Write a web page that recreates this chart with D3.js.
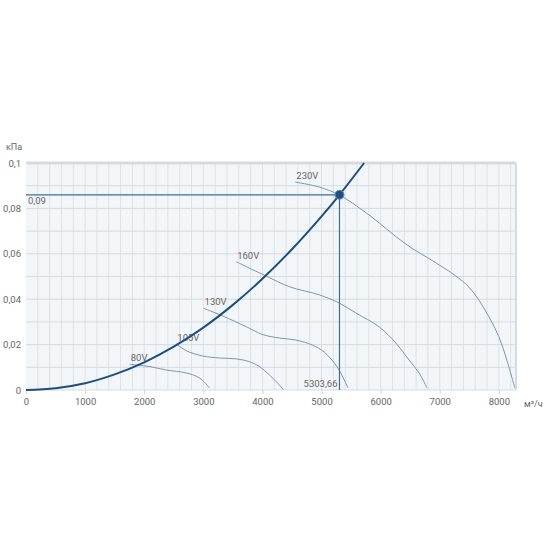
<!DOCTYPE html>
<html>
<head>
<meta charset="utf-8">
<script src="https://cdn.jsdelivr.net/npm/d3@7"></script>
<style>
  body { margin: 0; background: #fff; }
  text { font-family: Roboto, "Noto Sans", sans-serif; fill: #666; }
</style>
</head>
<body>
<svg id="chart"></svg>
<script>
// Axis ticks
const xTicks = [0, 1000, 2000, 3000, 4000, 5000, 6000, 7000, 8000];
const yTicks = [0, 0.02, 0.04, 0.06, 0.08, 0.1];

// System (network) curve
const systemCurve = [
  [0, 0], [500, 0.0008], [1000, 0.003], [1500, 0.0069], [2000, 0.0122],
  [2500, 0.0191], [3000, 0.0275], [3500, 0.0375], [4000, 0.049],
  [4500, 0.062], [5000, 0.0765], [5303.66, 0.086], [5720, 0.1]
];

// Fan curves by voltage
const fanNames = ['230V', '160V', '130V', '105V', '80V'];
const fan230 = [
  [4557, 0.0916], [4962, 0.0894], [5300, 0.0859], [5688, 0.0793], [5975, 0.0736],
  [6257, 0.0676], [6532, 0.0624], [6819, 0.0579], [7038, 0.0543], [7269, 0.0503],
  [7494, 0.0453], [7662, 0.0396], [7831, 0.0323], [8000, 0.0235], [8135, 0.0132],
  [8270, 0.0009]
];
const fan160 = [
  [3556, 0.0565], [4062, 0.0502], [4456, 0.0455], [4962, 0.0419], [5300, 0.0383],
  [5582, 0.0339], [5975, 0.0278], [6257, 0.0207], [6481, 0.0132], [6650, 0.0075],
  [6785, 0.0009]
];
const fan130 = [
  [3004, 0.036], [3330, 0.0326], [3725, 0.0279], [4005, 0.0244], [4287, 0.0229],
  [4569, 0.022], [4844, 0.0198], [5046, 0.0167], [5266, 0.0101], [5384, 0.0044],
  [5451, 0.0009]
];
const fan105 = [
  [2543, 0.0203], [2712, 0.0173], [2987, 0.015], [3274, 0.0141], [3556, 0.0137],
  [3781, 0.0125], [3949, 0.0103], [4118, 0.0066], [4287, 0.0022], [4354, 0]
];
const fan80 = [
  [1755, 0.0113], [2093, 0.0103], [2375, 0.0088], [2712, 0.0075], [2937, 0.0053],
  [3105, 0.0009]
];
const fans = [fan230, fan160, fan130, fan105, fan80];

// Operating point
const opFlow = 5303.66;
const opPressure = 0.086;
const opFlowLabel = '5303,66';
const opPressureLabel = '0,09';

const width = 550, height = 550;
const margin = {top: 163, right: 34, bottom: 160, left: 26};
const innerW = width - margin.left - margin.right;
const innerH = height - margin.top - margin.bottom;

const svg = d3.select('#chart')
    .attr('width', width)
    .attr('height', height);

const chart = svg.append('g')
    .attr('transform', `translate(${margin.left},${margin.top})`);

const xScale = d3.scaleLinear().domain([0, 8290]).range([0, innerW]);
const yScale = d3.scaleLinear().domain([0, 0.1]).range([innerH, 0]);

const fmt = d => d3.format('~g')(d).replace('.', ',');

// Background
chart.append('rect')
    .attr('width', innerW)
    .attr('height', innerH)
    .attr('fill', '#f3f6f9');

// Grid lines
chart.append('g')
    .selectAll('line')
    .data(d3.range(200, 8290, 200))
  .join('line')
    .attr('x1', d => xScale(d)).attr('x2', d => xScale(d))
    .attr('y1', 0).attr('y2', innerH)
    .attr('stroke', '#dde2e7')
    .attr('stroke-width', 1);

chart.append('g')
    .selectAll('line')
    .data(d3.range(1, 10).map(i => i / 100))
  .join('line')
    .attr('x1', 0).attr('x2', innerW)
    .attr('y1', d => yScale(d)).attr('y2', d => yScale(d))
    .attr('stroke', '#d6dbe0')
    .attr('stroke-width', 1);

// Frame: top and right thicker borders
chart.append('line')
    .attr('x1', 0).attr('x2', innerW).attr('y1', 0).attr('y2', 0)
    .attr('stroke', '#d7dbdf').attr('stroke-width', 3);
chart.append('line')
    .attr('x1', innerW).attr('x2', innerW).attr('y1', 0).attr('y2', innerH)
    .attr('stroke', '#d7dbdf').attr('stroke-width', 2);
chart.append('line')
    .attr('x1', 0).attr('x2', innerW).attr('y1', innerH).attr('y2', innerH)
    .attr('stroke', '#d7dbdf').attr('stroke-width', 1);

// Axes
const xAxis = d3.axisBottom(xScale)
    .tickValues(xTicks)
    .tickSize(4)
    .tickPadding(4)
    .tickFormat(d => d);

const yAxis = d3.axisLeft(yScale)
    .tickValues(yTicks)
    .tickSize(0)
    .tickPadding(5)
    .tickFormat(fmt);

chart.append('g')
    .attr('transform', `translate(0,${innerH})`)
    .call(xAxis)
    .call(g => g.select('.domain').remove())
    .call(g => g.selectAll('.tick line').attr('stroke', '#cfd4d9'))
    .call(g => g.selectAll('text').attr('fill', '#666').style('font-size', '9.5px')
        .style('font-family', 'Roboto, sans-serif'));

chart.append('g')
    .call(yAxis)
    .call(g => g.select('.domain').remove())
    .call(g => g.selectAll('text').attr('fill', '#666').style('font-size', '9.5px')
        .style('font-family', 'Roboto, sans-serif'));

// Axis titles
svg.append('text')
    .attr('x', 6).attr('y', 150)
    .style('font-size', '9px')
    .text('кПа');

svg.append('text')
    .attr('x', 524).attr('y', 407)
    .style('font-size', '9px')
    .text('м³/ч');

const line = d3.line()
    .x(d => xScale(d[0]))
    .y(d => yScale(d[1]))
    .curve(d3.curveCatmullRom.alpha(0.5));

// Fan curves
fans.forEach((pts, i) => {
  chart.append('path')
      .datum(pts)
      .attr('d', line)
      .attr('fill', 'none')
      .attr('stroke', '#8095ab')
      .attr('stroke-width', 1);

  chart.append('text')
      .attr('x', xScale(pts[0][0]) + 1)
      .attr('y', yScale(pts[0][1]) - 3)
      .style('font-size', '9.5px')
      .attr('fill', '#555')
      .text(fanNames[i]);
});

// Operating point guide lines
chart.append('line')
    .attr('x1', 0).attr('x2', xScale(opFlow))
    .attr('y1', yScale(opPressure)).attr('y2', yScale(opPressure))
    .attr('stroke', '#3f6b98').attr('stroke-width', 1.2);

chart.append('line')
    .attr('x1', xScale(opFlow)).attr('x2', xScale(opFlow))
    .attr('y1', yScale(opPressure)).attr('y2', innerH)
    .attr('stroke', '#3f6b98').attr('stroke-width', 1.2);

chart.append('text')
    .attr('x', 2)
    .attr('y', yScale(opPressure) + 9)
    .style('font-size', '9.5px')
    .attr('fill', '#555')
    .text(opPressureLabel);

chart.append('text')
    .attr('x', xScale(opFlow) - 2)
    .attr('y', innerH - 3)
    .attr('text-anchor', 'end')
    .style('font-size', '9.5px')
    .attr('fill', '#555')
    .text(opFlowLabel);

// System curve
chart.append('path')
    .datum(systemCurve)
    .attr('d', line)
    .attr('fill', 'none')
    .attr('stroke', '#1e4e7c')
    .attr('stroke-width', 2);

// Operating point marker
chart.append('circle')
    .attr('cx', xScale(opFlow))
    .attr('cy', yScale(opPressure))
    .attr('r', 4.5)
    .attr('fill', '#1d4f82')
    .attr('stroke', '#6f8fb2')
    .attr('stroke-width', 1);
</script>
</body>
</html>
